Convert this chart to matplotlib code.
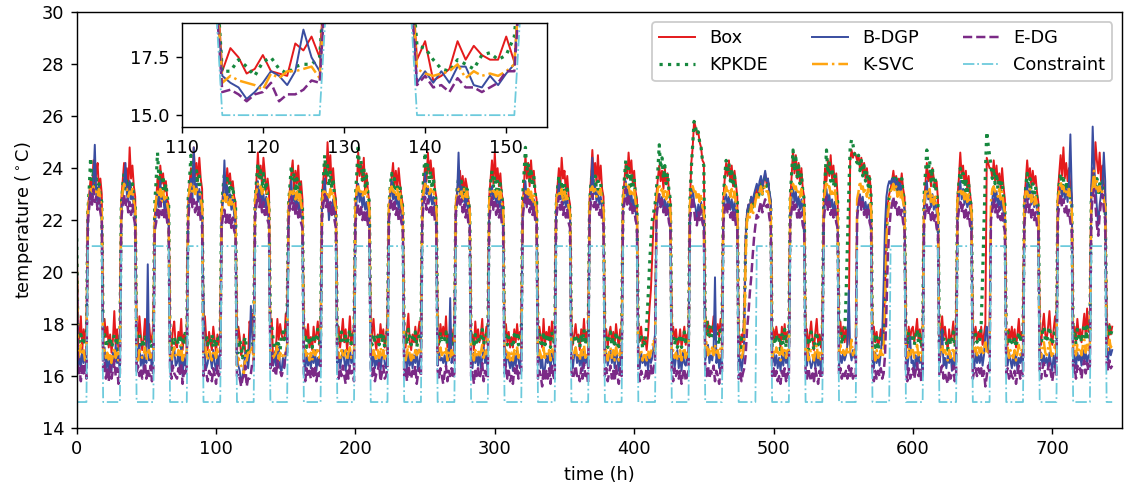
import numpy as np
import matplotlib
matplotlib.use("Agg")
import matplotlib.pyplot as plt

# hourly values, one line per day (hours 0..23)
box = [
21.5,17.2,17.6,18.3,17.0,17.8,17.4,17.9,22.4,23.0,23.6,22.9,24.3,23.2,23.8,24.2,23.1,23.6,23.0,17.3,18.2,17.5,17.9,17.1,
17.6,16.9,17.4,18.5,17.2,17.8,17.0,17.5,22.8,23.5,24.2,23.4,24.0,23.1,24.8,23.6,24.1,23.3,22.9,17.8,17.2,18.3,17.6,17.0,
17.4,18.2,17.1,17.7,18.0,17.3,17.5,17.9,22.1,22.7,23.6,23.0,24.1,23.4,23.8,23.1,23.5,22.8,22.6,17.5,17.0,17.8,18.1,17.2,
17.1,17.7,17.4,18.2,17.0,17.6,17.3,17.8,22.6,23.4,24.0,23.3,24.8,23.7,24.2,23.5,24.4,23.6,23.2,17.6,18.3,17.4,17.0,17.7,
17.3,17.0,17.9,17.4,16.9,17.6,17.2,17.5,22.3,23.1,23.7,23.0,24.0,23.4,23.8,23.2,23.5,22.9,22.7,16.9,17.9,17.5,16.8,17.0,
17.6,16.9,16.8,16.7,18.1,17.8,18.4,17.5,22.7,23.5,24.6,23.6,24.1,23.3,24.4,23.8,23.0,23.6,23.1,17.4,18.2,16.5,16.7,17.0,
18.2,17.4,18.0,17.6,17.4,17.4,18.4,17.3,22.5,23.2,23.8,24.3,23.1,23.9,23.4,24.1,23.0,23.5,22.8,17.2,17.8,17.4,18.0,17.1,
17.5,17.0,17.9,17.3,17.6,18.1,17.2,17.7,22.9,23.6,24.2,23.4,25.0,23.8,24.5,23.3,24.0,23.2,22.8,17.4,17.9,17.1,17.6,18.2,
17.3,17.8,17.0,17.5,18.3,17.2,17.6,17.9,22.6,23.3,24.6,23.7,24.2,23.5,24.4,23.0,23.8,23.1,22.7,17.1,17.7,18.2,17.4,17.0,
17.6,17.2,18.0,17.4,17.8,17.1,17.5,18.2,22.4,23.0,23.6,24.2,23.3,23.9,23.2,24.0,23.4,22.9,22.6,17.5,17.1,17.8,18.4,17.3,
17.0,17.6,17.3,17.9,17.2,17.7,18.1,17.4,22.8,23.4,24.1,23.5,24.6,23.8,24.3,23.6,24.0,23.2,22.9,17.7,17.2,18.0,17.5,17.9,
17.4,18.3,17.1,17.6,17.0,17.8,17.3,17.6,22.5,23.1,23.5,23.9,23.2,23.7,23.0,23.6,23.3,22.8,22.5,17.2,17.6,17.0,18.1,17.4,
17.8,17.3,17.6,18.2,17.1,17.5,17.9,17.2,22.9,23.6,24.3,23.4,24.6,23.5,24.0,23.3,23.8,23.0,22.7,17.6,18.0,17.3,17.7,17.1,
17.5,17.1,17.8,17.3,18.0,17.4,17.7,17.6,22.6,23.4,24.5,23.6,24.2,23.3,24.3,23.5,23.9,23.1,22.8,17.3,17.9,17.5,17.1,18.2,
17.2,17.7,17.4,17.9,17.1,18.1,17.5,17.3,22.7,23.3,24.0,23.2,24.4,23.6,23.9,23.1,23.7,22.9,22.6,17.8,17.2,17.6,18.0,17.4,
17.6,17.0,17.8,17.4,18.2,17.3,17.7,17.5,22.8,23.6,24.7,23.7,24.2,23.4,24.5,23.5,24.1,23.2,22.9,17.4,17.8,17.1,17.6,17.9,
17.3,17.7,17.2,18.0,17.5,17.1,17.8,17.4,22.9,23.5,24.2,23.6,24.6,23.8,24.3,23.4,23.9,23.1,22.8,17.3,17.6,17.9,17.2,17.5,
17.4,17.0,17.6,18.6,19.3,20.6,22.0,22.4,23.0,23.6,24.1,23.5,23.9,23.2,24.0,23.4,23.8,23.1,22.7,17.5,17.9,17.4,17.8,17.2,
17.3,17.8,17.1,17.5,17.9,17.2,17.6,17.4,22.6,24.2,24.8,25.8,25.6,25.3,25.4,25.0,24.8,24.3,24.2,18.4,17.6,18.1,17.5,17.9,
17.7,18.3,17.4,17.8,18.0,17.5,18.2,17.9,22.8,23.6,24.2,23.7,24.3,23.5,24.1,23.3,23.9,23.4,22.9,17.5,17.0,17.6,17.3,18.5,
21.4,22.3,22.6,22.4,22.9,22.5,22.8,23.0,23.2,22.9,23.3,23.6,23.1,23.5,23.8,23.4,23.6,23.0,22.7,17.2,17.8,17.4,17.9,17.5,
17.6,17.1,17.9,17.4,18.0,17.3,17.7,17.5,22.8,23.7,24.7,23.8,24.5,23.6,24.2,23.4,24.0,23.2,22.9,17.3,17.8,17.1,17.6,18.1,
17.4,17.0,17.7,18.2,17.3,17.6,17.1,17.8,22.6,24.0,23.5,24.3,23.7,24.5,23.6,24.1,23.3,23.8,22.9,17.6,18.1,17.4,17.9,17.3,
17.8,17.2,18.0,24.3,24.7,24.4,24.6,24.5,24.3,24.5,24.0,24.4,23.8,24.2,23.6,24.0,23.4,23.7,23.0,17.5,17.9,17.3,17.7,17.1,
17.4,17.8,17.2,17.6,19.5,21.8,22.6,23.0,23.2,23.5,23.9,23.4,23.7,23.1,23.6,23.3,23.8,23.2,22.9,17.6,17.1,17.9,17.4,17.8,
17.9,17.3,17.7,18.2,17.4,17.8,17.1,17.6,22.7,23.4,24.2,23.5,23.9,23.3,24.0,23.6,23.2,23.5,22.8,17.2,17.7,18.3,17.5,17.9,
17.4,17.0,17.8,17.3,17.6,18.1,17.2,17.5,22.9,23.6,24.6,23.7,24.1,23.4,23.9,23.2,23.7,23.0,22.6,17.1,17.6,17.9,17.3,17.7,
17.4,17.9,17.2,17.6,18.0,24.4,24.2,24.0,24.0,23.6,24.3,23.5,24.1,23.4,23.8,23.2,24.0,23.3,22.8,17.6,17.2,17.8,17.4,17.9,
17.3,17.8,17.1,17.6,18.2,17.4,17.7,17.5,22.8,23.5,24.3,23.6,24.0,23.3,23.9,23.4,23.7,23.1,22.7,17.7,17.2,17.9,18.4,17.6,
17.4,17.9,18.5,17.6,17.2,17.8,18.3,17.5,23.0,23.8,24.5,23.7,24.8,23.6,24.2,23.5,24.0,23.3,22.9,17.5,17.9,17.3,18.2,17.6,
17.8,17.3,17.9,18.4,17.5,18.6,17.7,18.0,23.2,24.0,23.6,25.0,24.3,23.8,24.6,23.5,24.1,23.4,23.0,18.2,17.4,18.0,17.6,17.9,
]

kpkde = [
21.3,17.0,17.4,17.6,17.3,17.5,17.2,17.4,22.3,23.2,24.4,23.5,23.8,23.1,23.6,23.0,23.4,22.9,22.7,17.4,17.6,17.1,17.3,17.2,
17.5,17.1,17.3,17.6,17.4,17.0,17.5,17.3,22.5,23.3,23.8,23.2,23.6,22.9,23.5,23.0,23.4,22.8,22.5,17.3,17.5,17.6,17.2,17.4,
17.1,17.5,17.3,17.6,17.2,17.4,17.0,17.5,22.6,23.5,24.6,23.6,23.9,23.2,23.7,23.1,23.4,22.9,22.6,17.2,17.4,17.0,17.5,17.3,
17.4,17.2,17.6,17.1,17.5,17.3,17.7,17.2,22.8,23.6,24.5,23.8,24.1,23.4,23.9,23.3,23.7,23.0,22.7,17.5,17.3,17.6,17.2,17.4,
17.3,17.6,17.1,17.4,17.2,17.5,17.3,17.6,22.4,23.2,23.8,23.3,23.6,23.0,23.5,22.9,23.3,22.8,22.5,16.9,16.9,17.4,17.1,16.7,
17.3,17.5,17.0,16.8,17.1,17.2,17.2,17.5,22.7,23.5,24.2,23.6,23.9,23.2,23.8,23.1,23.5,22.9,22.6,18.0,17.9,17.4,17.0,16.9,
17.4,17.2,17.0,17.6,17.7,17.4,17.6,18.4,22.6,23.3,24.1,23.5,23.8,23.1,23.6,23.0,23.4,22.8,22.5,17.3,17.6,17.1,17.5,17.2,
17.4,17.1,17.6,17.3,17.5,17.8,17.2,17.4,22.7,23.6,24.5,23.7,24.1,23.3,23.9,23.2,23.6,22.9,22.6,17.2,17.5,17.3,17.7,17.4,
17.3,17.6,17.2,17.5,17.8,17.1,17.4,17.6,22.9,23.8,24.9,23.9,24.3,23.5,24.0,23.3,23.7,23.0,22.7,17.4,17.2,17.6,17.3,17.5,
17.5,17.2,17.7,17.3,17.6,17.1,17.4,17.8,22.5,23.3,23.8,23.2,23.6,22.9,23.4,23.0,23.3,22.8,22.5,17.3,17.6,17.2,17.8,17.4,
17.2,17.5,17.3,17.7,17.1,17.4,17.6,17.3,22.8,23.7,24.6,23.8,24.2,23.4,23.9,23.2,23.6,23.0,22.7,17.6,17.3,17.7,17.4,17.5,
17.4,17.7,17.2,17.5,17.3,17.6,17.1,17.4,22.4,23.2,23.6,23.1,23.5,22.9,23.3,22.8,23.2,22.7,22.4,17.2,17.5,17.1,17.6,17.3,
17.5,17.3,17.4,17.8,17.2,17.5,17.6,17.3,22.6,23.4,23.9,23.3,23.7,23.0,23.5,23.1,23.4,22.9,22.6,17.4,17.7,17.2,17.5,17.3,
17.3,17.1,17.6,17.4,17.7,17.2,17.5,17.4,22.9,23.8,24.8,23.9,24.2,23.5,24.0,23.3,23.7,23.0,22.7,17.2,17.6,17.4,17.1,17.7,
17.2,17.5,17.3,17.6,17.1,17.7,17.4,17.2,22.5,23.2,23.7,23.1,23.5,22.9,23.4,22.8,23.2,22.7,22.4,17.5,17.2,17.4,17.6,17.3,
17.4,17.1,17.6,17.3,17.8,17.2,17.5,17.4,22.6,23.4,23.9,23.3,23.7,23.1,23.5,23.0,23.4,22.8,22.5,17.3,17.6,17.1,17.4,17.7,
17.2,17.5,17.1,17.7,17.3,17.0,17.6,17.4,22.8,23.6,24.3,23.7,24.0,23.3,23.8,23.2,23.6,22.9,22.6,17.2,17.4,17.6,17.1,17.3,
17.2,18.0,19.0,20.2,21.2,22.0,22.3,22.6,23.2,23.9,24.9,24.0,24.4,23.6,24.1,23.4,23.8,23.1,22.8,17.4,17.6,17.2,17.5,17.1,
17.3,17.6,17.1,17.4,17.7,17.2,17.5,17.3,22.7,24.0,24.9,25.8,25.6,25.3,25.4,25.0,24.8,24.3,24.1,17.8,18.2,17.5,17.9,17.4,
17.6,18.0,17.3,17.7,17.5,17.2,17.9,17.6,22.8,23.7,24.3,23.8,24.2,23.5,24.0,23.3,23.7,23.1,22.8,17.3,17.6,17.1,17.4,18.0,
21.0,22.2,22.5,22.4,22.8,22.4,22.7,22.9,23.1,22.8,23.2,23.5,23.0,23.4,23.6,23.3,23.5,22.9,22.6,17.1,17.5,17.2,17.6,17.3,
17.4,17.0,17.6,17.2,17.8,17.1,17.5,17.3,22.9,23.8,24.7,23.9,24.4,23.6,24.1,23.4,23.8,23.1,22.8,17.2,17.5,17.0,17.4,17.7,
17.3,17.0,17.5,17.7,17.2,17.4,17.1,17.6,22.7,23.6,24.7,23.8,24.2,23.5,24.0,23.3,23.7,23.0,22.7,17.4,17.8,17.2,17.6,17.5,
19.0,21.0,23.0,24.8,25.1,24.9,24.6,24.4,24.2,24.5,23.9,24.3,23.7,24.1,23.5,23.9,23.3,23.6,22.9,17.3,17.6,17.1,17.5,17.0,
17.3,17.6,17.2,17.5,19.0,21.6,22.5,22.9,23.2,23.5,23.7,23.3,23.6,23.0,23.5,23.1,23.6,23.0,22.7,17.5,17.2,17.7,17.3,17.6,
17.6,17.2,17.5,17.8,17.3,17.6,17.1,17.4,22.9,23.8,24.7,23.9,24.3,23.5,24.0,23.3,23.6,23.0,22.7,17.3,17.6,17.8,17.4,17.5,
17.3,17.0,17.5,17.2,17.4,17.7,17.1,17.3,22.6,23.4,24.0,23.4,23.8,23.1,23.6,23.0,23.4,22.8,22.5,17.2,17.5,17.6,17.3,17.5,
17.4,18.0,19.8,21.8,23.8,25.4,24.9,24.5,24.1,23.6,24.0,23.4,23.8,23.2,23.6,23.1,23.5,22.9,22.6,17.4,17.7,17.2,17.5,17.3,
17.2,17.5,17.1,17.4,17.7,17.3,17.6,17.4,22.6,23.3,23.8,23.2,23.6,23.0,23.4,22.9,23.3,22.8,22.5,17.5,17.2,17.7,17.9,17.4,
17.3,17.6,17.9,17.4,17.2,17.5,17.8,17.4,22.7,23.4,23.8,23.3,23.6,23.1,23.5,23.0,23.4,22.9,22.6,17.4,17.7,17.2,17.8,17.5,
17.6,17.3,17.7,18.0,17.4,17.9,17.5,17.7,22.8,23.5,23.7,23.2,23.6,23.0,23.4,23.1,23.5,22.9,22.6,17.8,17.5,17.9,17.6,17.8,
]

bdgp = [
21.0,16.4,16.8,16.2,17.0,16.5,16.9,16.3,22.1,22.7,23.2,22.6,23.5,24.9,23.0,22.6,23.3,22.5,22.2,16.6,17.1,16.3,16.8,16.0,
16.7,16.2,16.9,16.4,17.2,16.5,16.8,16.1,22.3,22.9,23.4,24.2,23.0,22.7,23.5,22.8,23.1,22.5,22.0,16.5,16.9,17.2,16.4,16.8,
16.3,17.0,16.5,20.3,16.6,16.9,16.2,16.7,21.8,22.4,23.0,22.5,23.5,22.7,22.9,22.4,22.8,22.2,21.9,16.6,16.2,16.9,17.1,16.4,
16.5,16.9,16.3,17.1,16.0,16.7,16.4,16.8,22.2,23.0,23.6,22.8,24.8,23.1,23.4,22.7,23.2,22.5,22.1,19.0,16.8,16.3,16.5,16.9,
16.7,16.3,17.0,16.5,16.2,16.8,16.4,17.0,22.0,22.8,24.3,22.9,23.3,22.6,23.0,22.4,22.8,22.2,21.8,16.7,16.4,16.2,15.7,16.0,
16.4,16.9,16.7,16.3,16.9,18.7,17.5,16.9,22.3,22.9,23.5,22.8,23.2,22.6,23.0,22.5,22.9,22.3,22.0,16.4,16.9,16.4,16.9,16.4,
17.1,17.1,16.3,16.2,16.7,16.3,16.8,17.2,22.2,22.8,23.5,22.7,23.1,22.5,22.9,22.4,22.7,22.2,21.9,16.6,16.2,16.9,16.4,16.7,
16.3,16.8,16.5,17.0,16.2,16.7,16.4,16.9,22.4,22.9,23.6,22.8,23.0,22.0,22.6,22.3,22.8,22.4,22.0,16.5,16.9,16.3,16.7,17.0,
16.6,16.2,16.9,16.4,17.1,16.5,16.8,16.3,22.3,22.8,23.4,22.7,23.1,22.5,22.9,22.4,22.7,22.2,21.9,16.8,16.4,17.0,16.3,16.6,
16.4,16.9,16.2,16.7,17.0,16.5,16.3,16.8,22.2,22.9,23.5,22.8,23.1,22.6,22.9,22.4,22.8,22.3,22.0,16.5,16.8,16.2,16.9,16.4,
16.7,16.3,16.8,16.5,17.0,16.2,16.6,16.9,22.5,23.0,23.8,23.0,23.3,22.7,23.1,22.6,22.9,22.4,22.1,16.4,16.9,16.6,16.7,16.5,
16.8,16.4,17.0,16.6,19.0,16.5,16.9,16.7,22.4,23.0,24.6,22.9,23.3,22.7,23.0,22.5,22.9,22.3,22.0,16.6,16.3,16.9,16.5,16.8,
16.4,16.9,16.3,16.7,17.1,16.5,16.8,16.2,22.3,22.9,23.3,22.8,23.1,22.6,23.0,22.5,22.8,22.3,22.0,16.8,16.4,16.9,16.6,16.3,
16.7,16.2,16.8,16.4,17.0,16.6,16.3,16.9,22.2,22.8,23.5,22.7,23.2,22.6,22.9,22.4,22.8,22.2,21.9,16.5,16.9,16.3,16.7,16.0,
16.3,16.8,16.5,16.9,16.2,17.0,16.6,16.4,22.4,22.9,23.4,22.8,23.1,22.6,22.9,22.5,22.8,22.3,22.0,16.7,16.3,16.8,17.1,16.5,
16.8,16.4,16.9,16.2,17.0,16.5,16.7,16.3,22.3,23.0,24.4,23.0,23.3,22.7,23.1,22.6,22.9,22.4,22.1,16.6,16.9,16.4,16.7,17.0,
16.5,16.9,16.3,17.1,16.6,16.2,16.8,16.4,22.4,22.9,23.5,22.9,23.2,22.6,23.0,22.5,22.8,22.3,22.0,16.6,16.3,16.9,16.5,16.7,
16.4,16.8,16.2,16.9,16.5,16.7,17.2,17.6,22.2,22.7,23.0,22.6,22.9,22.4,22.8,22.3,22.7,22.2,21.9,16.5,16.8,16.3,16.7,17.0,
16.3,16.7,16.2,16.9,16.5,16.4,16.8,16.6,22.3,22.8,23.3,22.7,22.5,22.0,22.6,22.2,22.7,22.3,22.0,16.6,16.9,17.2,16.5,16.8,
16.6,17.0,19.8,16.5,16.9,16.3,16.7,16.4,22.3,22.8,23.0,22.6,22.9,22.4,22.8,22.3,22.7,22.2,21.9,16.4,16.8,16.2,16.6,17.4,
21.2,22.3,22.6,22.5,22.9,22.7,23.0,23.2,23.4,23.1,23.5,23.7,23.3,23.6,23.9,23.5,23.6,23.1,22.8,16.5,16.9,16.4,16.8,16.3,
16.7,16.2,16.8,16.4,16.9,16.5,16.7,16.3,22.3,22.8,23.3,22.7,23.1,22.5,22.9,22.4,22.8,22.3,22.0,16.8,16.4,16.9,16.6,16.3,
16.5,16.8,16.3,16.9,16.4,16.7,16.2,16.8,22.2,22.8,23.2,22.6,23.0,22.5,22.8,22.3,22.7,22.2,21.9,16.4,16.8,16.5,16.9,16.6,
16.8,17.2,19.3,16.9,16.6,17.0,16.7,16.9,22.3,22.7,23.0,22.6,22.9,22.4,22.7,22.3,22.6,22.1,21.8,16.6,16.3,16.9,16.5,16.8,
16.4,16.9,17.6,19.5,21.8,22.9,23.3,23.5,23.4,23.6,23.3,23.6,23.2,23.5,23.1,23.4,23.0,22.7,22.4,16.7,16.3,16.8,17.5,16.5,
16.6,16.1,16.8,16.3,16.9,16.5,16.7,16.2,22.3,22.8,23.5,22.8,23.1,22.5,23.0,22.4,22.8,22.3,22.0,16.5,16.9,17.8,16.4,16.7,
16.3,16.8,16.5,16.9,16.2,16.7,16.4,16.8,22.4,22.9,23.5,22.8,23.2,22.6,23.0,22.5,22.9,22.4,22.1,16.6,16.3,16.9,16.5,16.8,
16.5,16.9,16.4,16.8,17.6,17.9,16.9,17.3,22.3,22.8,23.3,22.7,23.1,22.5,22.9,22.4,22.8,22.3,22.0,16.7,16.4,16.9,16.6,16.3,
16.8,16.4,16.9,16.2,16.7,16.5,16.9,16.3,22.4,22.9,23.4,22.8,23.2,22.6,23.0,22.5,22.9,22.4,22.1,16.6,16.9,16.4,16.8,16.5,
16.7,16.3,16.9,16.5,16.2,16.8,16.4,16.9,22.6,23.0,23.4,22.9,23.3,22.8,23.2,22.7,23.5,25.3,23.0,16.5,16.8,16.3,16.9,16.6,
16.8,16.4,17.0,16.6,16.9,16.5,16.8,16.7,23.0,25.6,24.0,23.4,22.5,21.8,22.6,23.0,23.4,24.6,23.5,16.9,16.6,17.1,16.8,17.0,
]

ksvc = [
20.8,16.7,16.9,17.2,16.8,17.0,16.6,16.9,22.3,22.9,23.2,23.1,23.3,23.0,23.1,22.9,23.2,22.8,22.5,16.8,17.0,16.7,16.9,16.6,
16.9,16.5,16.8,17.1,16.7,16.9,16.6,17.0,22.5,23.1,23.4,23.2,23.2,22.9,23.1,23.0,23.2,22.7,22.4,16.9,16.6,17.0,16.8,16.7,
16.8,17.1,16.6,16.9,17.0,16.7,16.8,17.0,22.2,22.8,23.1,22.9,23.2,22.7,23.1,22.8,23.0,22.6,22.3,16.7,16.6,16.9,17.1,16.8,
16.7,17.0,16.8,17.2,16.6,16.9,16.7,17.0,22.6,23.2,23.4,23.1,23.3,23.0,23.2,23.1,23.1,22.8,22.5,16.8,17.1,16.9,16.6,17.0,
16.8,16.6,17.0,16.9,16.7,17.1,16.8,16.9,22.3,22.8,23.0,22.7,22.9,22.5,22.8,22.6,22.9,22.5,22.2,16.4,16.7,16.5,16.4,16.3,
16.1,16.8,16.6,16.9,16.9,17.0,17.1,16.6,22.7,23.1,23.4,23.2,23.3,23.0,23.2,23.1,23.1,22.8,22.5,17.0,16.8,16.7,16.8,16.9,
17.2,16.6,16.9,16.7,16.8,16.7,16.9,17.2,22.5,23.1,23.1,23.0,23.2,22.8,23.1,22.7,23.0,22.6,22.3,16.8,17.0,16.7,16.9,16.6,
16.9,16.6,17.0,16.8,16.9,17.1,16.7,16.8,22.6,23.1,23.1,23.0,23.1,22.8,23.2,22.9,23.1,22.7,22.4,16.7,16.9,16.6,17.0,16.8,
16.8,17.0,16.6,16.9,17.1,16.7,16.8,17.0,22.7,23.2,23.3,23.1,23.2,22.9,23.1,23.0,23.2,22.7,22.4,16.9,16.7,17.0,16.8,16.6,
17.0,16.7,17.1,16.8,17.0,16.6,16.9,17.1,22.6,23.2,23.3,23.1,23.1,22.9,23.2,22.8,23.1,22.6,22.3,16.8,16.6,16.9,17.2,16.8,
16.6,16.9,16.7,17.0,16.8,16.9,17.1,16.8,22.8,23.1,23.4,23.2,23.3,23.0,23.2,23.1,23.1,22.8,22.5,17.0,16.7,17.1,16.8,16.9,
16.8,17.1,16.6,16.9,16.7,17.0,16.8,16.9,22.6,23.1,23.2,23.0,23.1,22.8,23.2,22.9,23.1,22.6,22.3,16.7,16.9,16.6,17.0,16.8,
17.0,16.8,16.9,17.2,16.7,16.9,17.0,16.8,22.7,23.2,23.2,23.1,23.1,22.9,23.2,22.8,23.1,22.7,22.4,16.9,17.1,16.7,16.9,16.6,
16.9,16.6,17.0,16.8,17.1,16.7,16.9,16.8,22.6,23.1,23.1,23.0,23.2,22.8,23.1,22.7,23.0,22.6,22.3,16.7,17.0,16.8,16.6,17.1,
16.7,16.9,16.8,17.0,16.6,17.1,16.9,16.7,22.5,23.1,23.1,22.9,23.2,22.7,23.1,22.8,23.0,22.5,22.2,17.0,16.7,16.9,17.1,16.8,
16.9,16.6,17.0,16.8,17.2,16.7,16.9,16.8,22.7,23.2,23.3,23.1,23.2,22.9,23.1,23.0,23.2,22.7,22.4,16.8,17.0,16.6,16.9,17.1,
16.7,17.0,16.6,17.1,16.8,16.6,17.0,16.9,22.8,23.1,23.4,23.2,23.3,23.0,23.1,22.9,23.2,22.7,22.4,16.7,16.9,17.0,16.6,16.8,
16.8,16.6,17.0,16.7,16.9,17.1,17.4,17.0,22.7,23.2,23.4,23.1,23.2,22.9,23.2,22.8,23.1,22.6,22.3,16.8,17.0,16.7,16.9,16.6,
16.7,17.0,16.6,16.9,17.1,16.7,16.9,16.8,22.6,23.2,23.3,23.1,23.1,22.8,23.1,22.7,23.0,22.5,22.2,17.0,17.3,16.8,17.1,16.9,
17.1,16.8,17.2,16.9,17.0,16.7,17.1,16.9,22.7,23.1,23.3,23.0,23.2,22.9,23.2,22.8,23.1,22.6,22.3,16.8,17.1,16.7,16.9,17.3,
20.6,22.0,22.3,22.1,22.6,22.2,22.4,22.7,23.0,22.8,23.1,23.3,23.0,23.2,23.3,23.1,23.1,22.8,22.5,16.7,17.0,16.8,17.1,16.9,
16.9,16.6,17.1,16.8,17.0,16.7,17.0,16.8,22.8,23.1,23.4,23.2,23.3,23.0,23.1,22.9,23.2,22.7,22.4,16.8,17.1,16.6,16.9,17.0,
16.8,16.6,17.0,17.2,16.7,16.9,16.6,17.0,22.7,23.1,23.5,23.2,23.3,23.0,23.1,22.9,23.2,22.7,22.4,16.9,17.2,16.8,17.0,16.8,
16.9,17.1,16.8,17.0,17.4,16.8,17.0,16.9,22.8,23.1,23.5,23.2,23.3,23.0,23.2,22.9,23.2,22.7,22.4,16.8,17.0,16.6,17.0,16.7,
16.8,17.0,16.7,16.9,18.5,21.2,22.2,22.6,23.1,23.2,23.4,23.1,23.3,22.9,23.1,22.8,23.1,22.7,22.4,17.0,16.7,17.1,16.8,17.0,
17.0,16.7,16.9,17.2,16.8,17.0,16.6,16.9,22.6,23.1,23.1,22.9,23.2,22.7,23.0,22.6,22.9,22.5,22.2,16.8,17.0,17.2,16.9,17.0,
16.8,16.6,17.0,16.7,16.9,17.1,16.6,16.8,22.7,23.2,23.2,23.0,23.1,22.8,23.1,22.7,23.0,22.6,22.3,16.7,17.0,17.1,16.8,17.2,
16.9,17.1,16.8,17.0,17.3,16.9,17.0,16.8,22.7,23.2,23.3,23.1,23.1,22.9,23.2,22.8,23.1,22.6,22.3,16.9,17.1,16.7,17.0,16.8,
16.7,17.0,16.6,16.9,17.2,16.8,17.0,16.9,22.6,23.1,23.1,22.9,23.2,22.7,23.0,22.6,22.9,22.5,22.2,17.0,16.7,17.1,17.3,16.9,
16.8,17.1,17.3,16.9,16.7,17.0,17.2,16.9,22.8,23.1,23.5,23.2,23.3,23.0,23.1,22.9,23.2,22.7,22.4,16.9,17.2,16.8,17.2,17.0,
17.1,16.8,17.2,17.4,16.9,17.3,17.0,17.2,22.9,23.3,23.9,23.2,23.5,23.1,23.3,23.0,23.1,22.8,22.5,17.3,17.0,17.4,17.1,17.2,
]

edg = [
20.5,16.0,16.3,15.8,16.5,16.1,16.4,15.9,21.9,22.5,23.0,22.6,23.2,22.7,22.9,22.4,22.8,22.3,22.0,16.2,16.5,15.9,16.3,15.8,
16.4,15.9,16.2,16.6,16.0,16.3,15.7,16.1,22.0,22.6,23.0,22.5,22.8,22.3,22.7,22.2,22.6,22.1,21.8,16.1,16.4,16.0,16.3,15.9,
16.2,16.5,15.9,16.3,16.0,16.4,15.8,16.2,21.6,21.9,22.4,22.1,22.7,22.2,22.5,22.0,22.4,21.9,21.7,16.3,15.9,16.4,16.1,16.0,
15.9,16.3,16.0,16.5,15.7,16.2,16.0,16.4,22.0,22.7,23.0,22.5,22.8,22.3,22.7,22.2,22.5,22.0,21.8,16.0,16.4,16.1,15.8,16.2,
16.1,15.8,16.3,16.0,15.7,16.4,16.0,16.2,21.7,22.2,22.4,21.9,22.3,21.8,22.2,21.7,22.1,21.6,21.4,16.0,16.1,15.9,15.6,15.9,
16.0,16.4,15.6,15.9,15.9,16.1,16.5,16.4,22.1,22.6,23.0,22.5,22.8,22.3,22.7,22.2,22.5,22.0,21.8,16.3,16.7,16.2,16.3,16.0,
16.6,16.2,16.2,16.0,16.2,16.4,16.9,16.9,22.0,22.5,22.9,22.4,22.7,22.2,22.6,22.1,22.4,21.9,21.7,16.1,15.8,16.3,16.0,16.2,
15.9,16.3,16.0,16.4,15.8,16.2,16.0,16.3,22.1,22.6,23.0,22.5,22.8,22.3,22.7,22.2,22.5,22.0,21.7,16.2,15.9,16.3,16.0,16.4,
16.0,15.7,16.3,15.9,16.4,16.1,16.2,15.8,21.9,22.3,22.6,22.2,22.5,22.0,22.4,21.9,22.3,21.8,21.6,16.3,16.0,16.4,15.8,16.1,
16.2,16.5,15.8,16.1,16.4,15.9,16.0,16.3,22.0,22.5,22.8,22.4,22.7,22.2,22.5,22.0,22.4,21.9,21.7,16.0,16.3,15.8,16.4,16.1,
15.9,16.2,16.0,16.4,15.7,16.1,16.3,16.0,22.1,22.6,22.9,22.4,22.8,22.3,22.6,22.1,22.5,22.0,21.8,16.2,15.9,16.3,16.0,15.7,
16.1,16.4,15.8,16.2,16.0,16.3,15.9,16.1,22.2,22.7,23.0,22.5,22.8,22.3,22.6,22.1,22.4,21.9,21.7,16.0,16.2,15.7,16.3,16.0,
16.3,15.9,16.1,16.5,15.8,16.2,16.0,15.9,22.0,22.5,22.9,22.4,22.7,22.2,22.6,22.1,22.4,21.9,21.7,16.1,16.4,15.9,16.2,15.8,
16.0,15.7,16.3,16.0,16.4,15.9,16.1,16.2,22.1,22.6,23.0,22.5,22.8,22.3,22.7,22.2,22.5,22.0,21.8,15.9,16.2,16.0,15.6,16.3,
15.8,16.2,15.9,16.3,15.7,16.4,16.0,15.9,22.0,22.5,22.9,22.4,22.7,22.2,22.5,22.1,22.4,21.9,21.7,16.2,15.9,16.1,16.4,16.0,
16.1,15.8,16.3,15.9,16.5,16.0,16.2,15.7,22.1,22.7,23.0,22.5,22.8,22.3,22.6,22.2,22.5,22.0,21.8,16.0,16.3,15.8,16.1,16.4,
15.9,16.2,15.8,16.4,16.0,15.7,16.3,16.0,22.2,22.7,23.2,22.6,22.9,22.4,22.7,22.2,22.5,22.0,21.8,16.1,15.8,16.2,16.0,15.9,
16.0,16.3,15.8,16.1,16.4,16.0,16.3,16.6,22.1,22.6,23.0,22.5,22.8,22.3,22.6,22.1,22.4,21.9,21.7,16.1,15.8,16.3,16.0,16.2,
15.9,16.2,15.7,16.1,16.3,15.8,16.0,16.2,22.0,22.5,22.9,22.4,21.9,21.8,22.3,22.0,22.4,21.9,21.7,16.3,16.0,16.4,15.9,16.2,
16.1,16.4,15.8,16.2,16.0,15.7,16.3,16.1,21.9,22.4,22.7,22.3,22.6,22.1,22.4,21.9,22.3,21.8,21.6,15.9,16.2,15.8,16.1,16.3,
16.8,17.8,18.4,19.2,19.8,20.6,21.3,21.8,22.2,22.1,22.5,22.7,22.3,22.6,22.8,22.5,22.6,22.1,21.8,16.0,16.3,15.9,16.2,15.8,
16.0,15.7,16.2,15.9,16.3,15.8,16.1,15.9,21.9,22.4,22.7,22.3,22.6,22.1,22.4,22.0,22.3,21.8,21.6,16.2,15.9,16.3,16.0,15.8,
16.1,15.8,16.3,16.0,15.7,16.2,15.9,16.1,22.0,22.5,22.9,22.4,22.7,22.2,22.5,22.1,22.4,21.9,21.7,16.0,16.3,15.9,16.2,16.0,
16.2,15.9,16.4,16.0,16.3,15.9,16.1,16.0,22.1,22.6,22.9,22.4,22.7,22.2,22.5,22.1,22.4,21.9,21.7,16.1,15.8,16.2,15.9,16.2,
16.0,16.3,15.9,16.1,16.8,18.5,20.6,21.6,22.3,22.6,22.9,22.4,22.7,22.2,22.5,22.1,22.4,21.9,21.7,16.2,15.8,16.3,15.9,16.1,
16.3,15.9,16.2,16.5,16.0,16.3,15.8,16.1,21.8,22.3,22.6,22.2,22.5,22.0,22.3,21.9,22.2,21.7,21.5,16.0,16.2,16.4,15.9,16.1,
15.9,15.7,16.2,15.9,16.1,16.4,15.8,16.0,21.9,22.4,22.7,22.3,22.6,22.1,22.4,22.0,22.3,21.8,21.6,15.9,16.2,16.3,16.0,16.3,
16.1,16.3,15.9,16.2,15.6,16.0,16.4,16.1,22.0,22.4,22.8,22.3,22.6,22.1,22.5,22.0,22.3,21.8,21.6,16.1,16.3,15.9,16.2,16.0,
15.9,16.2,15.7,16.1,16.4,15.9,16.2,16.0,21.9,22.4,22.8,22.3,22.6,22.1,22.4,22.0,22.3,21.8,21.6,16.2,15.9,16.3,16.5,16.0,
16.0,16.3,16.5,16.1,15.8,16.2,16.4,16.0,22.1,22.6,23.0,22.5,22.8,22.3,22.6,22.1,22.4,21.9,21.7,16.1,16.4,15.9,16.4,16.2,
16.3,15.9,16.4,16.6,16.1,16.5,16.2,16.4,22.2,22.9,23.2,22.6,21.8,21.4,22.2,22.7,23.0,22.4,22.0,16.5,16.2,16.6,16.3,16.4,
]

constraint = [
15,15,15,15,15,15,15,15,21,21,21,21,21,21,21,21,21,21,21,15,15,15,15,15,
15,15,15,15,15,15,15,15,21,21,21,21,21,21,21,21,21,21,21,15,15,15,15,15,
15,15,15,15,15,15,15,15,21,21,21,21,21,21,21,21,21,21,21,15,15,15,15,15,
15,15,15,15,15,15,15,15,21,21,21,21,21,21,21,21,21,21,21,15,15,15,15,15,
15,15,15,15,15,15,15,15,21,21,21,21,21,21,21,21,21,21,21,15,15,15,15,15,
15,15,15,15,15,15,15,15,21,21,21,21,21,21,21,21,21,21,21,15,15,15,15,15,
15,15,15,15,15,15,15,15,21,21,21,21,21,21,21,21,21,21,21,15,15,15,15,15,
15,15,15,15,15,15,15,15,21,21,21,21,21,21,21,21,21,21,21,15,15,15,15,15,
15,15,15,15,15,15,15,15,21,21,21,21,21,21,21,21,21,21,21,15,15,15,15,15,
15,15,15,15,15,15,15,15,21,21,21,21,21,21,21,21,21,21,21,15,15,15,15,15,
15,15,15,15,15,15,15,15,21,21,21,21,21,21,21,21,21,21,21,15,15,15,15,15,
15,15,15,15,15,15,15,15,21,21,21,21,21,21,21,21,21,21,21,15,15,15,15,15,
15,15,15,15,15,15,15,15,21,21,21,21,21,21,21,21,21,21,21,15,15,15,15,15,
15,15,15,15,15,15,15,15,21,21,21,21,21,21,21,21,21,21,21,15,15,15,15,15,
15,15,15,15,15,15,15,15,21,21,21,21,21,21,21,21,21,21,21,15,15,15,15,15,
15,15,15,15,15,15,15,15,21,21,21,21,21,21,21,21,21,21,21,15,15,15,15,15,
15,15,15,15,15,15,15,15,21,21,21,21,21,21,21,21,21,21,21,15,15,15,15,15,
15,15,15,15,15,15,15,15,21,21,21,21,21,21,21,21,21,21,21,15,15,15,15,15,
15,15,15,15,15,15,15,15,21,21,21,21,21,21,21,21,21,21,21,15,15,15,15,15,
15,15,15,15,15,15,15,15,21,21,21,21,21,21,21,21,21,21,21,15,15,15,15,15,
15,15,15,15,15,15,15,15,21,21,21,21,21,21,21,21,21,21,21,15,15,15,15,15,
15,15,15,15,15,15,15,15,21,21,21,21,21,21,21,21,21,21,21,15,15,15,15,15,
15,15,15,15,15,15,15,15,21,21,21,21,21,21,21,21,21,21,21,15,15,15,15,15,
15,15,15,15,15,15,15,15,21,21,21,21,21,21,21,21,21,21,21,15,15,15,15,15,
15,15,15,15,15,15,15,15,21,21,21,21,21,21,21,21,21,21,21,15,15,15,15,15,
15,15,15,15,15,15,15,15,21,21,21,21,21,21,21,21,21,21,21,15,15,15,15,15,
15,15,15,15,15,15,15,15,21,21,21,21,21,21,21,21,21,21,21,15,15,15,15,15,
15,15,15,15,15,15,15,15,21,21,21,21,21,21,21,21,21,21,21,15,15,15,15,15,
15,15,15,15,15,15,15,15,21,21,21,21,21,21,21,21,21,21,21,15,15,15,15,15,
15,15,15,15,15,15,15,15,21,21,21,21,21,21,21,21,21,21,21,15,15,15,15,15,
15,15,15,15,15,15,15,15,21,21,21,21,21,21,21,21,21,21,21,15,15,15,15,15,
]

labels = ["Box", "KPKDE", "B-DGP", "K-SVC", "E-DG", "Constraint"]
xticks_main = [0, 100, 200, 300, 400, 500, 600, 700]
yticks_main = [14, 16, 18, 20, 22, 24, 26, 28, 30]
xticks_inset = [110, 120, 130, 140, 150]
yticks_inset = [15.0, 17.5]

for name, s in [("box", box), ("kpkde", kpkde), ("bdgp", bdgp), ("ksvc", ksvc), ("edg", edg), ("constraint", constraint)]:
    assert len(s) == 744, (name, len(s))

series = [box, kpkde, bdgp, ksvc, edg, constraint]
styles = [
    dict(color="#e41a1c", ls="-", lw=1.1),
    dict(color="#16883e", ls=":", lw=1.8),
    dict(color="#3a4da0", ls="-", lw=1.1),
    dict(color="#ffa511", ls="-.", lw=1.4),
    dict(color="#7b2a86", ls="--", lw=1.4),
    dict(color="#6ccadc", ls="-.", lw=1.0),
]

plt.rcParams["font.family"] = "DejaVu Sans"
plt.rcParams["font.size"] = 10

fig = plt.figure(figsize=(1126 / 128, 490 / 128), dpi=128)
ax = fig.add_axes([0.0681, 0.1265, 0.9283, 0.8485])
for s, st, lab in zip(series, styles, labels):
    ax.plot(np.arange(len(s)), s, label=lab, **st)
ax.set_xlim(0, 750)
ax.set_ylim(14, 30)
ax.set_xticks(xticks_main)
ax.set_yticks(yticks_main)
ax.set_xlabel("time (h)")
ax.set_ylabel(r"temperature ($^\circ$C)")
ax.legend(loc="upper right", ncol=3, framealpha=1.0, columnspacing=2.5,
          handlelength=2.0, borderaxespad=0.55)

axin = fig.add_axes([0.1614, 0.7414, 0.3242, 0.2123])
for s, st in zip(series, styles):
    axin.plot(np.arange(len(s)), s, **st)
axin.set_xlim(110, 155)
axin.set_ylim(14.5, 19.0)
axin.set_xticks(xticks_inset)
axin.set_yticks(yticks_inset)
axin.set_yticklabels(["15.0", "17.5"])

fig.savefig("out.png", dpi=128)
